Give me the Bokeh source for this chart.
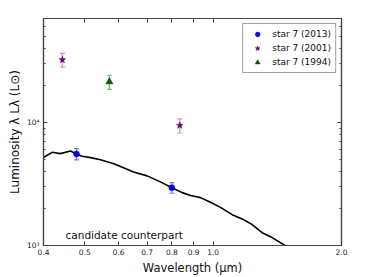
from bokeh.plotting import figure
from bokeh.models import (LogAxis, FixedTicker, Range1d, Whisker, ColumnDataSource,
                          TeeHead, Legend, LegendItem)
from bokeh.core.properties import value
from bokeh.embed import file_html
from bokeh.resources import INLINE

# ---- data ----
model_wl = [0.4006, 0.419, 0.438, 0.463, 0.478, 0.493, 0.516, 0.544, 0.585, 0.651,
            0.700, 0.752, 0.80, 0.846, 0.885, 0.934, 0.985, 1.040, 1.108, 1.170,
            1.234, 1.303, 1.375, 1.475]
model_lum = [5220, 5720, 5580, 5860, 5550, 5320, 5180, 4970, 4610, 3960,
             3680, 3290, 2950, 2690, 2545, 2450, 2250, 2040, 1780, 1645,
             1480, 1270, 1160, 1000]

s2013_wl = [0.478, 0.80]
s2013_lum = [5550, 2950]
s2013_err = [580, 290]

s2001_wl = [0.443, 0.835]
s2001_lum = [32300, 9460]
s2001_err = [4100, 1250]

s1994_wl = [0.571]
s1994_lum = [21400]
s1994_err = [2800]

x_ticks = [0.4, 0.5, 0.6, 0.7, 0.8, 0.9, 1.0, 2.0]
x_tick_labels = ["0.4", "0.5", "0.6", "0.7", "0.8", "0.9", "1.0", "2.0"]
y_ticks = [1000, 10000]
y_tick_labels = ["10³", "10⁴"]
y_minor = [2000, 3000, 4000, 5000, 6000, 7000, 8000, 9000,
           20000, 30000, 40000, 50000, 60000]

note_x = [0.4505]
note_y = [1225]
note_text = ["candidate counterpart"]

FONT = "DejaVu Sans"
AX = "#444444"

p = figure(width=379, height=277, x_axis_type="log", y_axis_type="log",
           x_range=Range1d(0.4, 2.0), y_range=Range1d(1000, 70000),
           output_backend="svg", toolbar_location=None,
           min_border_left=43, min_border_right=38, min_border_top=18, min_border_bottom=29)
p.grid.visible = False
p.outline_line_color = AX
p.outline_line_width = 1.2
p.background_fill_color = "white"
p.border_fill_color = "white"

xt = FixedTicker(ticks=x_ticks, minor_ticks=[])
yt = FixedTicker(ticks=y_ticks, minor_ticks=y_minor)

def style(ax, show_labels):
    ax.axis_line_color = AX
    ax.axis_line_width = 1.2
    ax.major_tick_in = 4
    ax.major_tick_out = 0
    ax.minor_tick_in = 2
    ax.minor_tick_out = 0
    ax.major_tick_line_color = AX
    ax.minor_tick_line_color = AX
    ax.major_label_text_font = FONT
    ax.major_label_text_color = "#222222"
    if show_labels:
        ax.major_label_text_font_size = "7.5px"
    else:
        ax.major_label_text_font_size = "1px"
        ax.major_label_text_alpha = 0
        ax.major_label_standoff = 0

xa = p.xaxis[0]
xa.ticker = xt
xa.major_label_overrides = {t: l for t, l in zip(x_ticks, x_tick_labels)}
style(xa, True)
xa.major_label_standoff = 3
xa.axis_label = "Wavelength (μm)"
xa.axis_label_text_font = FONT
xa.axis_label_text_font_size = "11.5px"
xa.axis_label_text_font_style = "normal"
xa.axis_label_text_color = "#111111"
xa.axis_label_standoff = 3

ya = p.yaxis[0]
ya.ticker = yt
ya.major_label_overrides = {t: l for t, l in zip(y_ticks, y_tick_labels)}
style(ya, True)
ya.major_label_standoff = 4
ya.axis_label = "Luminosity λ Lλ (L⊙)"
ya.axis_label_text_font = FONT
ya.axis_label_text_font_size = "12px"
ya.axis_label_text_font_style = "normal"
ya.axis_label_text_color = "#111111"
ya.axis_label_standoff = 2

top = LogAxis(ticker=xt)
style(top, False)
p.add_layout(top, "above")
right = LogAxis(ticker=yt)
style(right, False)
p.add_layout(right, "right")

# model curve
p.line(model_wl, model_lum, line_color="black", line_width=1.6)

def errs(xs, ys, es, color):
    src = ColumnDataSource(dict(x=xs, lo=[y - e for y, e in zip(ys, es)],
                                hi=[y + e for y, e in zip(ys, es)]))
    w = Whisker(base="x", lower="lo", upper="hi", source=src, dimension="height",
                line_color=color, line_alpha=0.5, line_width=1.4,
                lower_head=TeeHead(size=5, line_color=color, line_alpha=0.5, line_width=1.2),
                upper_head=TeeHead(size=5, line_color=color, line_alpha=0.5, line_width=1.2))
    p.add_layout(w)

errs(s2013_wl, s2013_lum, s2013_err, "#0000ff")
errs(s2001_wl, s2001_lum, s2001_err, "#b030b0")
errs(s1994_wl, s1994_lum, s1994_err, "#008000")

r1 = p.scatter(s2013_wl, s2013_lum, marker="circle", size=6, fill_color="#0000ff",
               line_color="#000080", line_width=0.4)
r2 = p.scatter(s2001_wl, s2001_lum, marker="star", size=7, fill_color="#800080",
               line_color="#300030", line_width=0.5)
r3 = p.scatter(s1994_wl, s1994_lum, marker="triangle", size=7, fill_color="#006400",
               line_color="#002000", line_width=0.5)

p.text(x=note_x, y=note_y, text=note_text, text_font=value(FONT), text_font_size="10.5px",
       text_baseline="middle", text_align="left", text_color="#111111")

legend = Legend(items=[LegendItem(label="star 7 (2013)", renderers=[r1]),
                       LegendItem(label="star 7 (2001)", renderers=[r2]),
                       LegendItem(label="star 7 (1994)", renderers=[r3])],
                location="top_right", margin=5, padding=4, spacing=2,
                label_height=12, glyph_height=12, glyph_width=20, label_standoff=5,
                label_text_font=FONT, label_text_font_size="9px", label_text_color="#111111",
                border_line_color="#444444", border_line_width=1,
                background_fill_color="white", background_fill_alpha=1)
p.add_layout(legend)

open("out.html", "w").write(file_html(p, INLINE))
